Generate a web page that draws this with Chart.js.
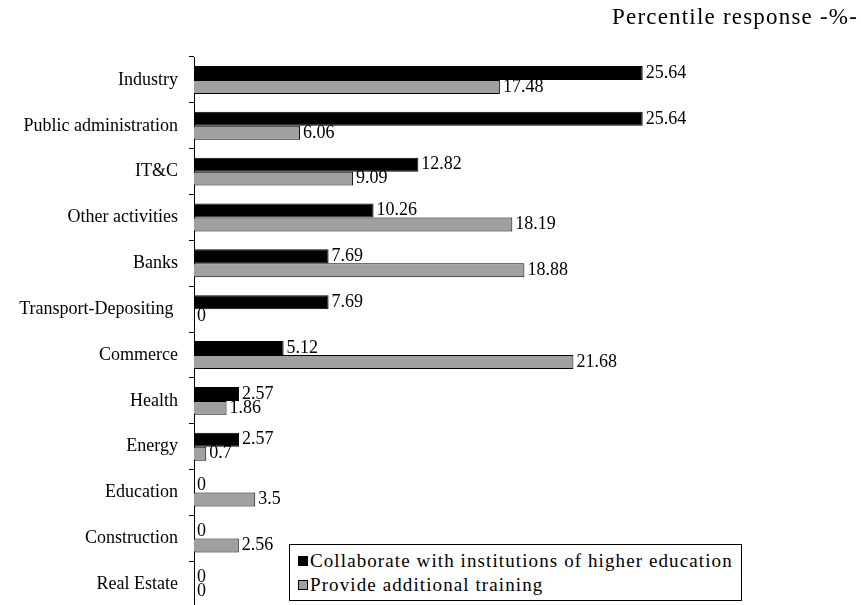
<!DOCTYPE html>
<html>
<head>
<meta charset="utf-8">
<script src="https://cdn.jsdelivr.net/npm/chart.js@4/dist/chart.umd.min.js"></script>
<style>
  html, body { margin: 0; padding: 0; background: #fff; overflow: hidden; }
  #wrap { position: relative; width: 861px; height: 605px; overflow: hidden; font-family: "Liberation Serif", serif; }
  #title { position: absolute; right: 3px; top: 4px; font-size: 23px; letter-spacing: 1.2px; color: #000; }
  #legend { position: absolute; left: 289px; top: 544px; width: 453px; height: 57px; border: 1px solid #000; box-sizing: border-box; background: #fff; font-size: 19px; letter-spacing: 1.1px; color: #000; padding: 4px 0 0 8px; }
  #legend div { height: 24px; line-height: 24px; white-space: nowrap; }
  #legend span.sw { display: inline-block; width: 10px; height: 10px; box-sizing: border-box; border: 1px solid #000; margin-right: 2px; vertical-align: 1px; }
</style>
</head>
<body>
<div id="wrap">
  <canvas id="c" width="861" height="629"></canvas>
  <div id="title">Percentile response -%-</div>
  <div id="legend"></div>
</div>
<script>
const categories = ["Industry", "Public administration", "IT&C", "Other activities", "Banks",
  "Transport-Depositing ", "Commerce", "Health", "Energy", "Education", "Construction", "Real Estate"]
const collaborate = [25.64, 25.64, 12.82, 10.26, 7.69, 7.69, 5.12, 2.57, 2.57, 0, 0, 0]
const training = [17.48, 6.06, 9.09, 18.19, 18.88, 0, 21.68, 1.86, 0.7, 3.5, 2.56, 0]
const seriesNames = ["Collaborate with institutions of higher education", "Provide additional training"]
const seriesColors = ["#000000", "#a0a0a0"]

const valueLabels = {
  id: "valueLabels",
  afterDatasetsDraw(chart) {
    const ctx = chart.ctx
    ctx.save()
    ctx.font = "18px 'Liberation Serif', serif"
    ctx.fillStyle = "#000"
    ctx.textAlign = "left"
    ctx.textBaseline = "middle"
    chart.data.datasets.forEach((ds, i) => {
      chart.getDatasetMeta(i).data.forEach((bar, j) => {
        ctx.fillText(String(ds.data[j]), bar.x + 3, bar.y)
      })
    })
    ctx.restore()
  }
}

const legendEl = document.getElementById("legend")
seriesNames.forEach((name, i) => {
  const row = document.createElement("div")
  row.innerHTML = '<span class="sw" style="background:' + seriesColors[i] + '"></span>' + name
  legendEl.appendChild(row)
})

new Chart(document.getElementById("c"), {
  type: "bar",
  data: {
    labels: categories,
    datasets: [
      { label: seriesNames[0], data: collaborate, backgroundColor: seriesColors[0], borderColor: "#000", borderWidth: 1 },
      { label: seriesNames[1], data: training, backgroundColor: seriesColors[1], borderColor: "#000", borderWidth: 1 }
    ]
  },
  options: {
    indexAxis: "y",
    responsive: false,
    animation: false,
    layout: { padding: { top: 57, right: 142, bottom: 0, left: 0 } },
    categoryPercentage: 0.61,
    barPercentage: 1.0,
    plugins: { legend: { display: false }, tooltip: { enabled: false } },
    scales: {
      x: { display: false, min: 0, max: 30 },
      y: {
        afterFit(s) { s.width = 194 },
        border: { color: "#000", width: 1 },
        grid: { drawOnChartArea: false, tickLength: 5, color: "#000", offset: true },
        ticks: { color: "#000", padding: 11, font: { family: "'Liberation Serif', serif", size: 18 } }
      }
    }
  },
  plugins: [valueLabels]
})
</script>
</body>
</html>
